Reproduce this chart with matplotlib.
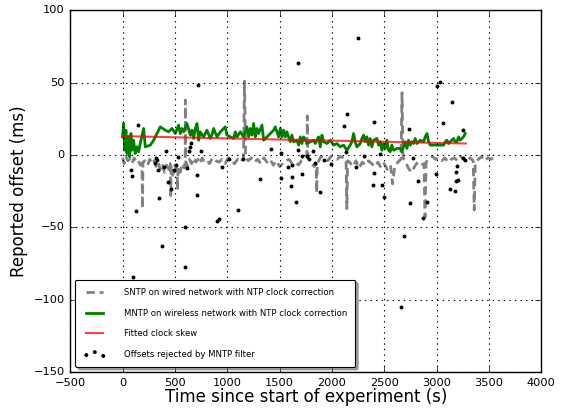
import numpy as np
import matplotlib
matplotlib.use("Agg")
import matplotlib.pyplot as plt

# SNTP offsets on the wired network (s, ms)
sntp_t = [0, 15, 30, 50, 70, 90, 110, 130, 150, 170, 185, 190, 195, 215, 240,
          260, 280, 300, 320, 340, 360, 380, 400, 420, 440, 455, 460, 465, 480,
          500, 520, 525, 530, 550, 570, 590, 598, 600, 602, 620, 640, 660, 680,
          700, 720, 740, 760, 780, 800, 830, 860, 890, 920, 950, 980, 1010,
          1040, 1070, 1100, 1130, 1155, 1165, 1175, 1200, 1230, 1260, 1290,
          1320, 1350, 1380, 1410, 1440, 1470, 1500, 1530, 1560, 1590, 1620,
          1650, 1680, 1710, 1740, 1760, 1765, 1770, 1790, 1810, 1830, 1850,
          1855, 1860, 1880, 1900, 1930, 1960, 1990, 2020, 2050, 2080, 2110,
          2135, 2143, 2150, 2170, 2200, 2230, 2260, 2290, 2320, 2350, 2380,
          2410, 2440, 2470, 2500, 2530, 2560, 2580, 2600, 2630, 2660, 2670,
          2680, 2700, 2730, 2760, 2790, 2820, 2850, 2880, 2890, 2900, 2930,
          2960, 2990, 3020, 3050, 3080, 3110, 3140, 3170, 3200, 3230, 3260,
          3290, 3320, 3350, 3360, 3370, 3400, 3430, 3460, 3490, 3520, 3560]
sntp_off = [-2, -6, -1, -4, -3, -6, -2, -5, -4, -7, -6, -37, -5, -4, -7,
            -3, -6, -4, -8, -5, -10, -6, -12, -7, -10, -6, -28, -8, -14,
            -7, -11, -24, -8, -12, -6, -9, -5, 38, -4, -8, -3, -6, -2,
            -5, -3, -6, -2, -4, -3, -6, -2, -4, -5, -3, -6, -2,
            -4, -6, -3, -5, -2, 51, -1, -4, -2, -5, -3,
            -6, -2, -5, -3, -7, -4, -8, -6, -4, -3, -6,
            -5, -7, -4, -3, -2, 27, -2, -4, -6, -8, -6,
            -26, -7, -3, -1, -2, -4, -1, -2, -3, -1, -2,
            -3, -37, -4, -5, -8, -4, -9, -5, -7, -4, -6,
            -8, -5, -9, -6, -10, -7, -20, -8, -5, -3, 43,
            -2, -4, -9, -12, -8, -5, -7, -6, -43, -5, -2,
            -1, -3, -2, -4, -2, -5, -3, -2, -4, -1, -3,
            -5, -2, -4, -38, -5, -3, -1, -4, -2, -3, -1]

# MNTP offsets on the wireless network
mntp_t = [0, 10, 20, 32, 42, 58, 67, 80, 90, 105, 121, 137, 153, 169, 201,
          217, 265, 297, 360, 408, 440, 472, 504, 535, 551, 567, 583, 615,
          647, 663, 679, 695, 711, 727, 742, 774, 806, 838, 854, 870, 902,
          934, 981, 997, 1029, 1061, 1077, 1093, 1125, 1156, 1172, 1188,
          1204, 1220, 1236, 1252, 1268, 1284, 1300, 1332, 1348, 1379, 1411,
          1443, 1459, 1491, 1507, 1523, 1539, 1555, 1570, 1602, 1618, 1634,
          1666, 1682, 1698, 1714, 1730, 1762, 1793, 1825, 1841, 1873, 1889,
          1905, 1921, 1953, 1985, 2016, 2048, 2080, 2111, 2143, 2175, 2191,
          2207, 2223, 2239, 2271, 2287, 2303, 2318, 2334, 2350, 2366, 2382,
          2398, 2430, 2446, 2462, 2478, 2494, 2510, 2525, 2541, 2557, 2573,
          2589, 2621, 2653, 2669, 2685, 2701, 2717, 2732, 2748, 2764, 2780,
          2796, 2812, 2844, 2876, 2892, 2908, 2924, 2940, 3003, 3067, 3083,
          3099, 3115, 3131, 3147, 3162, 3178, 3194, 3210, 3226, 3242, 3258,
          3274]
mntp_off = [12.5, 21.7, 3.3, 17.1, 1.0, 12.5, -1.3, 14.8, 3.3, 10.2, 1.0, 5.6,
            2.2, 7.9, 18.3, 5.6, 6.8, 10.2, 19.4, 17.1, 16.0, 18.3, 14.8, 20.6,
            14.8, 18.3, 16.0, 21.7, 13.7, 17.1, 11.4, 18.3, 21.7, 10.2, 16.0,
            12.5, 17.1, 11.4, 13.7, 18.3, 12.5, 16.0, 19.4, 13.7, 12.5, 11.4,
            16.0, 12.5, 16.0, 12.5, 16.0, 19.4, 12.5, 18.3, 13.7, 21.7, 12.5,
            18.3, 14.8, 20.6, 10.2, 12.5, 14.8, 17.1, 19.4, 12.5, 18.3, 12.5,
            17.1, 12.5, 16.0, 9.1, 13.7, 9.1, 10.2, 6.8, 12.5, 7.9, 12.5, 7.9,
            9.1, 10.2, 7.9, 12.5, 5.6, 13.7, 9.1, 7.9, 10.2, 6.8, 7.9, 5.6,
            6.8, 3.3, 6.8, 9.1, 14.8, 9.1, 5.6, 7.9, 11.4, 13.7, 9.1, 12.5,
            6.8, 11.4, 5.6, 10.2, 11.4, 6.8, 9.1, 3.3, 7.9, 4.5, 10.2, 3.3,
            2.2, 6.8, 3.3, 4.5, 4.5, 2.2, 5.6, 9.1, 4.5, 10.2, 6.8, 9.1, 7.9,
            11.4, 7.9, 10.2, 9.1, 12.5, 14.8, 9.1, 6.8, 6.8, 6.8, 9.1, 10.2,
            7.9, 9.1, 10.2, 11.4, 9.1, 9.1, 12.5, 10.2, 11.4, 12.5, 14.8]

# linear skew fit, end points
skew_t = [0, 3280]
skew_off = [13.0, 7.9]

# samples thrown away by the MNTP filter
rej_t = [83, 93, 102, 131, 150, 313, 322, 332, 341, 351, 379, 398, 417, 437,
         465, 494, 510, 532, 599, 599, 618, 637, 647, 655, 714, 714, 725, 752,
         905, 924, 953, 1019, 1106, 1152, 1316, 1421, 1510, 1517, 1585, 1612,
         1621, 1621, 1660, 1672, 1677, 1716, 1716, 1765, 1785, 1822, 1842,
         1891, 1926, 1994, 2118, 2137, 2147, 2232, 2251, 2308, 2394, 2404,
         2404, 2462, 2480, 2499, 2663, 2690, 2738, 2748, 2777, 2825, 2872,
         2910, 2996, 3006, 3035, 3063, 3130, 3150, 3178, 3188, 3188, 3198,
         3207, 3255, 3255, 3274]
rej_off = [-10.6, -14.7, -84, -39, 21, -5.7, -2, -3.6, -10.5, -29.8, -63, -8.3,
           3, -18.6, -23.4, -10.5, -7, -1.5, -50, -77.5, -9, 2.6, 5.4, 8.1,
           -27.7, -13.9, 48, 2.6, -45.8, -44.5, -8.3, -2.9, -38.3, -2.9, -16.6,
           4, 1.2, -16, -8.4, -21.5, -15, -7, -32.5, 3.3, 63.4, -0.8, -13,
           -0.5, -2.9, 2.6, -5.7, -25.7, -3.6, -6.4, 19.8, 1.9, 28, -8.4, 80.7,
           -0.8, -20.9, -12.6, 22.6, 0.5, -20.9, -29, -105, -56, 17.8, -33,
           -2.2, -18.1, -43.6, -32.6, -13.3, 47.6, 50.3, 21.9, -23.6, 36.4,
           -25, -18.1, -12, -7.7, -17.4, 17, -2.2, -3.6]

plt.style.use("classic")
plt.rcParams["font.family"] = "DejaVu Sans"

fig = plt.figure(figsize=(5.62, 4.08), dpi=100, facecolor="white")
ax = fig.add_axes([0.125, 0.088, 0.838, 0.887])

ax.plot(sntp_t, sntp_off, "--", color="gray", lw=2, dashes=(6, 3.5),
        label="SNTP on wired network with NTP clock correction")
ax.plot(mntp_t, mntp_off, "-", color="green", lw=2,
        label="MNTP on wireless network with NTP clock correction")
ax.plot(skew_t, skew_off, "-", color="red", lw=1.5, alpha=0.75,
        label="Fitted clock skew")
ax.scatter(rej_t, rej_off, s=8, c="black", marker="o", linewidths=0,
           label="Offsets rejected by MNTP filter", zorder=5)

ax.set_xlim(-500, 4000)
ax.set_ylim(-150, 100)
ax.set_xticks(np.arange(-500, 4001, 500))
ax.set_yticks(np.arange(-150, 101, 50))
ax.tick_params(labelsize=8.2, direction="in", length=4)
ax.grid(True, color="black", linestyle=":", linewidth=0.8)
ax.set_xlabel("Time since start of experiment (s)", fontsize=12, labelpad=0)
ax.set_ylabel("Reported offset (ms)", fontsize=12, labelpad=4)

leg = ax.legend(loc="lower left", fontsize=6.1, fancybox=True, shadow=True,
                numpoints=2, scatterpoints=3,
                scatteryoffsets=[0.25, 0.75, 0.1], labelspacing=1.35,
                handlelength=2.6, handletextpad=2.1, borderpad=1.0,
                borderaxespad=0.6)
leg.get_frame().set_linewidth(0.8)

fig.savefig("out.png", dpi=100, facecolor="white")
